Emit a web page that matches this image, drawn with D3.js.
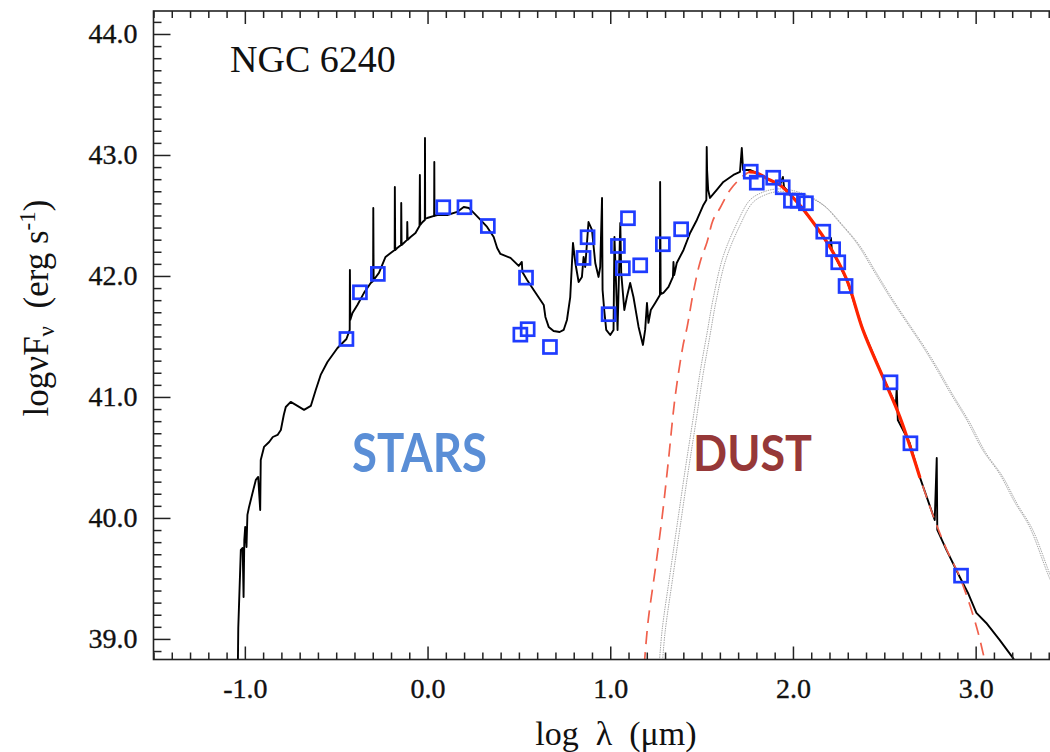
<!DOCTYPE html>
<html>
<head>
<meta charset="utf-8">
<script src="https://cdn.jsdelivr.net/npm/d3@7"></script>
<style>
  html, body { margin: 0; padding: 0; background: #fff; overflow: hidden; }
  svg { display: block; }
  .serif { font-family: "Liberation Serif", "Times New Roman", serif; fill: #111; }
</style>
</head>
<body>
<svg id="chart" width="1050" height="752"></svg>
<script>
// ---- Data: NGC 6240 spectral energy distribution (log lambda [um], log nuF_nu [erg s^-1]) ----

// Full model SED (stellar + dust), including emission-line spikes
const sedModel = [
  [-1.038,38.80],[-1.036,39.091],[-1.022,39.736],[-1.012,39.752],[-1.007,39.347],[-1.003,39.818],
  [-0.998,39.926],[-0.991,39.760],[-0.986,40.025],[-0.977,40.091],[-0.958,40.207],[-0.940,40.314],
  [-0.927,40.339],[-0.916,40.066],[-0.913,40.479],[-0.895,40.587],[-0.867,40.628],[-0.847,40.669],
  [-0.821,40.686],[-0.803,40.727],[-0.787,40.851],[-0.776,40.917],[-0.749,40.959],[-0.712,40.926],
  [-0.676,40.893],[-0.639,40.926],[-0.612,41.058],[-0.585,41.182],[-0.548,41.289],[-0.493,41.405],
  [-0.444,41.479],[-0.426,41.554],[-0.425,42.050],[-0.423,41.636],[-0.411,41.694],[-0.384,41.760],
  [-0.348,41.860],[-0.311,41.942],[-0.298,41.959],[-0.297,42.562],[-0.295,41.967],[-0.266,42.025],
  [-0.230,42.157],[-0.202,42.190],[-0.180,42.215],[-0.179,42.736],[-0.177,42.215],[-0.166,42.231],
  [-0.145,42.256],[-0.144,42.603],[-0.142,42.256],[-0.130,42.273],[-0.112,42.298],[-0.111,42.446],
  [-0.109,42.298],[-0.093,42.322],[-0.066,42.355],[-0.044,42.413],[-0.042,42.835],[-0.040,42.421],
  [-0.027,42.446],[-0.015,42.463],[-0.014,43.140],[-0.013,42.471],[-0.002,42.479],[0.036,42.496],
  [0.037,42.942],[0.038,42.496],[0.053,42.504],[0.108,42.504],[0.162,42.529],[0.198,42.570],
  [0.226,42.562],[0.253,42.521],[0.290,42.463],[0.326,42.405],[0.362,42.322],[0.381,42.231],
  [0.399,42.182],[0.454,42.149],[0.499,42.083],[0.516,42.116],[0.519,42.033],[0.545,41.967],
  [0.581,41.884],[0.636,41.760],[0.645,41.661],[0.663,41.579],[0.690,41.545],[0.723,41.537],
  [0.745,41.554],[0.763,41.636],[0.781,41.826],[0.796,42.273],[0.809,42.107],[0.827,41.950],
  [0.845,41.992],[0.854,42.157],[0.863,42.074],[0.881,42.446],[0.900,42.380],[0.918,42.107],
  [0.936,41.992],[0.945,42.074],[0.955,42.645],[0.958,41.884],[0.967,41.719],[0.978,41.554],
  [1.000,41.512],[1.018,41.554],[1.023,42.322],[1.033,41.884],[1.040,41.554],[1.055,42.438],
  [1.060,42.025],[1.077,41.719],[1.091,41.826],[1.109,41.942],[1.127,41.826],[1.155,41.579],
  [1.179,41.430],[1.191,41.554],[1.201,41.777],[1.209,41.612],[1.222,41.719],[1.246,41.777],
  [1.272,41.843],[1.273,42.777],[1.276,41.851],[1.291,41.860],[1.319,41.909],[1.343,41.992],
  [1.346,42.116],[1.350,42.008],[1.364,42.107],[1.401,42.215],[1.437,42.355],[1.474,42.463],
  [1.510,42.587],[1.526,42.628],[1.528,43.066],[1.530,42.876],[1.536,42.711],[1.546,42.645],
  [1.583,42.711],[1.619,42.777],[1.674,42.835],[1.710,42.860],[1.720,43.058],[1.727,42.876],
  [1.765,42.876],[1.803,42.851],[1.874,42.793],[1.929,42.752],[1.945,42.818],[1.951,42.736],
  [2.022,42.612],[2.109,42.446],[2.202,42.240],[2.208,42.314],[2.213,42.215],[2.295,41.967],
  [2.383,41.554],[2.492,41.165],[2.563,40.934],[2.568,41.074],[2.574,40.810],[2.639,40.620],
  [2.694,40.339],[2.776,39.983],[2.787,40.496],[2.790,39.901],[2.840,39.736],[2.913,39.512],
  [2.958,39.380],[3.004,39.215],[3.058,39.132],[3.131,38.992],[3.204,38.843],[3.219,38.810]
];

// Modified blackbody dust fit (solid inside the fitted range, dashed outside)
const dustFit = [
  [1.186,38.785],[1.208,39.157],[1.246,39.570],[1.284,40.008],[1.317,40.455],[1.355,41.000],
  [1.399,41.430],[1.421,41.579],[1.454,41.860],[1.492,42.116],[1.530,42.281],[1.563,42.463],
  [1.601,42.562],[1.656,42.711],[1.727,42.826],[1.765,42.860],[1.803,42.851],[1.874,42.793],
  [1.929,42.752],[2.022,42.612],[2.109,42.446],[2.202,42.240],[2.295,41.967],[2.383,41.554],
  [2.492,41.165],[2.585,40.835],[2.694,40.339],[2.776,39.983],[2.842,39.736],[2.913,39.512],
  [3.005,39.099],[3.055,38.785]
];
const fitRange = [1.765, 2.694];

// Two comparison blackbody curves (thin grey)
const bbCurveA = [
  [1.268,38.785],[1.284,39.074],[1.328,39.545],[1.366,39.942],[1.410,40.397],[1.454,40.826],
  [1.492,41.207],[1.530,41.529],[1.563,41.810],[1.617,42.157],[1.694,42.438],[1.765,42.628],
  [1.838,42.694],[1.911,42.719],[1.984,42.711],[2.075,42.669],[2.166,42.587],[2.257,42.438],
  [2.348,42.273],[2.439,42.050],[2.530,41.826],[2.639,41.579],[2.705,41.430],[2.776,41.256],
  [2.858,41.041],[2.951,40.810],[3.038,40.562],[3.131,40.364],[3.213,40.132],[3.295,39.926],
  [3.404,39.504],[3.497,39.198]
];
const bbCurveB = [
  [1.284,38.765],[1.300,39.054],[1.344,39.525],[1.382,39.922],[1.426,40.377],[1.470,40.806],
  [1.508,41.187],[1.546,41.509],[1.579,41.790],[1.633,42.137],[1.710,42.418],[1.781,42.608],
  [1.854,42.674],[1.927,42.699],[2.000,42.691],[2.091,42.649],[2.182,42.567],[2.273,42.418],
  [2.364,42.253],[2.455,42.030],[2.546,41.806],[2.655,41.559],[2.721,41.410],[2.792,41.236],
  [2.874,41.021],[2.967,40.790],[3.054,40.542],[3.147,40.344],[3.229,40.112],[3.311,39.906],
  [3.420,39.484],[3.513,39.178]
];

// Observed photometry
const photometry = [
  [-0.444,41.479],[-0.370,41.865],[-0.272,42.017],[0.086,42.568],[0.202,42.568],[0.330,42.413],
  [0.508,41.515],[0.539,41.986],[0.548,41.560],[0.670,41.413],[0.854,42.149],[0.876,42.320],
  [0.991,41.684],[1.042,42.248],[1.069,42.064],[1.097,42.477],[1.164,42.088],[1.288,42.262],
  [1.388,42.386],[1.769,42.862],[1.802,42.771],[1.892,42.812],[1.944,42.733],[1.989,42.622],
  [2.026,42.622],[2.071,42.601],[2.166,42.366],[2.220,42.221],[2.248,42.113],[2.288,41.917],
  [2.534,41.121],[2.643,40.617],[2.920,39.523]
];

// Axes
const xMajorTicks = [-1, 0, 1, 2, 3];
const xTickLabels = ["-1.0", "0.0", "1.0", "2.0", "3.0"];
const yMajorTicks = [39, 40, 41, 42, 43, 44];
const yTickLabels = ["39.0", "40.0", "41.0", "42.0", "43.0", "44.0"];
const xDomain = [-1.5, 3.5];
const yDomain = [38.83, 44.19];

// ---- Layout ----
const plot = { left: 153.5, right: 1067, top: 11, bottom: 659.5 };
const svg = d3.select("#chart");

const x = d3.scaleLinear().domain(xDomain).range([plot.left, plot.right]);
const y = d3.scaleLinear().domain(yDomain).range([plot.bottom, plot.top]);

const minorX = d3.range(-15, 36).map(i => i / 10).filter(v => !xMajorTicks.some(m => Math.abs(m - v) < 1e-9));
const minorY = d3.range(389, 442).map(i => i / 10).filter(v => !yMajorTicks.some(m => Math.abs(m - v) < 1e-9));

svg.append("defs").append("clipPath").attr("id", "plotClip")
  .append("rect")
  .attr("x", plot.left).attr("y", plot.top)
  .attr("width", plot.right - plot.left).attr("height", plot.bottom - plot.top);

const curves = svg.append("g").attr("clip-path", "url(#plotClip)");

const straight = d3.line().x(d => x(d[0])).y(d => y(d[1]));
const smooth = d3.line().x(d => x(d[0])).y(d => y(d[1])).curve(d3.curveCatmullRom);

// grey blackbody curves
[bbCurveA, bbCurveB].forEach(c => {
  curves.append("path").datum(c)
    .attr("d", smooth)
    .attr("fill", "none")
    .attr("stroke", "#8c8c8c")
    .attr("stroke-width", 0.8)
    .attr("stroke-dasharray", "1.4,1");
});

// full SED model
curves.append("path").datum(sedModel)
  .attr("d", straight)
  .attr("fill", "none")
  .attr("stroke", "#000")
  .attr("stroke-width", 1.9)
  .attr("stroke-linejoin", "round");

// dust fit: dashed everywhere, solid over the fitted range
curves.append("path").datum(dustFit)
  .attr("d", smooth)
  .attr("fill", "none")
  .attr("stroke", "#f0604c")
  .attr("stroke-width", 1.7)
  .attr("stroke-dasharray", "13,8");

curves.append("path").datum(dustFit.filter(d => d[0] >= fitRange[0] && d[0] <= fitRange[1]))
  .attr("d", smooth)
  .attr("fill", "none")
  .attr("stroke", "#ff2400")
  .attr("stroke-width", 3.2)
  .attr("stroke-linecap", "round");

// photometric points
const sq = 13;
svg.append("g").selectAll("rect").data(photometry).join("rect")
  .attr("x", d => x(d[0]) - sq / 2)
  .attr("y", d => y(d[1]) - sq / 2)
  .attr("width", sq).attr("height", sq)
  .attr("fill", "none")
  .attr("stroke", "#1f3cff")
  .attr("stroke-width", 2.7);

// ---- Axes (ticks point inward on all four sides) ----
function styleAxis(g) {
  g.select(".domain").remove();
  g.selectAll("line").attr("stroke", "#222").attr("stroke-width", 1.5);
}

const fmtX = d => xTickLabels[xMajorTicks.indexOf(d)];
const fmtY = d => yTickLabels[yMajorTicks.indexOf(d)];

function styleLabels(g) {
  g.selectAll("text")
    .attr("class", "serif")
    .attr("font-size", 28)
    .attr("fill", "#111")
    .attr("stroke", "#111")
    .attr("stroke-width", 0.35);
}

// bottom
svg.append("g").attr("transform", `translate(0,${plot.bottom})`)
  .call(d3.axisBottom(x).tickValues(minorX).tickSize(-7).tickFormat(""))
  .call(styleAxis);
svg.append("g").attr("transform", `translate(0,${plot.bottom})`)
  .call(d3.axisBottom(x).tickValues(xMajorTicks).tickSize(-13).tickPadding(19).tickFormat(fmtX))
  .call(styleAxis)
  .call(styleLabels);

// top
svg.append("g").attr("transform", `translate(0,${plot.top})`)
  .call(d3.axisTop(x).tickValues(minorX).tickSize(-7).tickFormat(""))
  .call(styleAxis);
svg.append("g").attr("transform", `translate(0,${plot.top})`)
  .call(d3.axisTop(x).tickValues(xMajorTicks).tickSize(-13).tickFormat(""))
  .call(styleAxis);

// left
svg.append("g").attr("transform", `translate(${plot.left},0)`)
  .call(d3.axisLeft(y).tickValues(minorY).tickSize(-8).tickFormat(""))
  .call(styleAxis);
svg.append("g").attr("transform", `translate(${plot.left},0)`)
  .call(d3.axisLeft(y).tickValues(yMajorTicks).tickSize(-17).tickPadding(16).tickFormat(fmtY))
  .call(styleAxis)
  .call(styleLabels);

// right
svg.append("g").attr("transform", `translate(${plot.right},0)`)
  .call(d3.axisRight(y).tickValues(minorY).tickSize(-8).tickFormat(""))
  .call(styleAxis);
svg.append("g").attr("transform", `translate(${plot.right},0)`)
  .call(d3.axisRight(y).tickValues(yMajorTicks).tickSize(-17).tickFormat(""))
  .call(styleAxis);

// frame
svg.append("rect")
  .attr("x", plot.left).attr("y", plot.top)
  .attr("width", plot.right - plot.left).attr("height", plot.bottom - plot.top)
  .attr("fill", "none").attr("stroke", "#222").attr("stroke-width", 1.6);

// ---- Text ----
svg.append("text").attr("class", "serif")
  .attr("x", 230).attr("y", 72)
  .attr("font-size", 38)
  .text("NGC 6240");

svg.append("text").attr("class", "serif")
  .attr("x", 616).attr("y", 745)
  .attr("font-size", 34)
  .attr("text-anchor", "middle")
  .style("white-space", "pre")
  .text("log  λ  (μm)");

const yLabel = svg.append("text").attr("class", "serif")
  .attr("transform", "translate(48,308) rotate(-90)")
  .attr("font-size", 35)
  .attr("text-anchor", "middle")
  .style("white-space", "pre");
yLabel.append("tspan").text("logνF");
yLabel.append("tspan").attr("font-size", 23).attr("dy", 6).text("ν");
yLabel.append("tspan").attr("dy", -6).text("  (erg s");
yLabel.append("tspan").attr("font-size", 23).attr("dy", -13).text("-1");
yLabel.append("tspan").attr("dy", 13).text(")");

svg.append("text")
  .attr("x", 352).attr("y", 472)
  .attr("font-family", "Lato, 'Open Sans', sans-serif")
  .attr("font-weight", 700)
  .attr("font-size", 53)
  .attr("fill", "#5a8ed6")
  .attr("textLength", 135).attr("lengthAdjust", "spacingAndGlyphs")
  .text("STARS");

svg.append("text")
  .attr("x", 693).attr("y", 471)
  .attr("font-family", "Lato, 'Open Sans', sans-serif")
  .attr("font-weight", 700)
  .attr("font-size", 50)
  .attr("fill", "#963838")
  .attr("textLength", 119).attr("lengthAdjust", "spacingAndGlyphs")
  .text("DUST");
</script>
</body>
</html>
